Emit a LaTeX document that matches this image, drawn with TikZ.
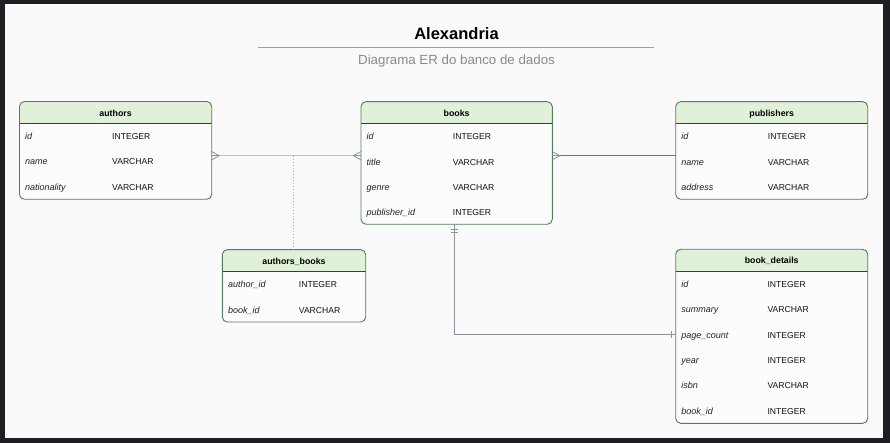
\documentclass[tikz,border=0pt]{standalone}
\usepackage{fontspec}
\setmainfont{Liberation Sans}
\usetikzlibrary{calc}
\definecolor{framedark}{HTML}{1E1F22}
\definecolor{bgc}{HTML}{FAFAFA}
\definecolor{bodyfill}{HTML}{FCFCFC}
\definecolor{headfill}{HTML}{E0F0D9}
\definecolor{tblborder}{HTML}{4E7D5B}
\definecolor{sepc}{HTML}{1F4D2C}
\definecolor{relA}{HTML}{BCC1C8}
\definecolor{crowc}{HTML}{8C939C}
\definecolor{relB}{HTML}{6B7280}
\definecolor{relC}{HTML}{8C939C}
\definecolor{dotc}{HTML}{A8ADB4}
\definecolor{namegray}{HTML}{222222}
\definecolor{typeblack}{HTML}{111111}
\definecolor{rulegray}{HTML}{A0A0A0}
\definecolor{subgray}{HTML}{8A8A8A}
\tikzset{
  tbl/.style={draw=tblborder, line width=0.9pt, rounded corners=5pt, inner sep=0pt, outer sep=0pt},
  sepline/.style={draw=sepc, line width=1pt},
  ttl/.style={font=\bfseries\fontsize{8.8}{10}\selectfont, text=black, anchor=base, inner sep=0pt},
  fname/.style={font=\itshape\fontsize{9}{10}\selectfont, text=namegray, anchor=base west, inner sep=0pt},
  ftype/.style={font=\fontsize{8.6}{10}\selectfont, text=typeblack, anchor=base west, inner sep=0pt},
  relmain/.style={draw=relA, line width=1.6pt},
  reldark/.style={draw=relB, line width=0.8pt},
  relmid/.style={draw=relC, line width=0.8pt},
  reldot/.style={draw=dotc, line width=1pt, dotted},
  crow/.style={draw=crowc, line width=0.8pt},
}
\newcommand\ertable[8]{%
  \begin{scope}
    \clip[rounded corners=5pt] (#2,#3) rectangle (#4,#5);
    \fill[bodyfill] (#2,#3) rectangle (#4,#5);
    \fill[headfill] (#2,#3) rectangle (#4,{#3+21.8});
  \end{scope}
  \draw[sepline] (#2,{#3+21.8}) -- (#4,{#3+21.8});
  \pgfmathsetmacro\tw{#4-#2}%
  \pgfmathsetmacro\th{#5-#3}%
  \node[tbl, anchor=north west, minimum width=\tw pt, minimum height=\th pt] (#1) at (#2,#3) {};
  \node[ttl] (#1-title) at ({(#2+#4)/2},{#3+14.6}) {#6};
  \foreach \fn/\ft [count=\i] in {#8} {
    \node[fname] (#1-f\i) at ({#2+5.5},{#3+38.2+(\i-1)*25.3}) {\fn};
    \node[ftype] (#1-t\i) at ({#2+#7},{#3+38.2+(\i-1)*25.3}) {\ft};
  }
}
\newcommand\crowfoot[2]{%
  \draw[crow] ([yshift=4.2pt]#1) -- ([xshift=#2*7.5pt]#1) -- ([yshift=-4.2pt]#1);
  \draw[crow] (#1) -- ([xshift=#2*7.5pt]#1);
}
\begin{document}
\begin{tikzpicture}[x=1pt,y=-1pt]
\fill[framedark] (0,0) rectangle (890,443);
\fill[bgc] (5,4) rectangle (883,438);

% title
\node[font=\bfseries\fontsize{16.5}{19}\selectfont, anchor=base, inner sep=0pt] (title) at (456.5,39.3) {Alexandria};
\draw[rulegray, line width=1.5pt] (258.3,47.3) -- (654.3,47.3);
\node[font=\fontsize{13.3}{15}\selectfont, text=subgray, anchor=base, inner sep=0pt] (subtitle) at (456.5,65) {Diagrama ER do banco de dados};

% tables
\ertable{authors}{19.5}{101.5}{211.7}{199.3}{authors}{92.5}{id/INTEGER, name/VARCHAR, nationality/VARCHAR}
\ertable{books}{361}{101.7}{552.3}{224.3}{books}{91.7}{id/INTEGER, title/VARCHAR, genre/VARCHAR, publisher\_id/INTEGER}
\ertable{publishers}{675.7}{101.7}{867.7}{199.3}{publishers}{92}{id/INTEGER, name/VARCHAR, address/VARCHAR}
\ertable{authorsbooks}{222.3}{249.7}{365.7}{322}{authors\_books}{76.4}{author\_id/INTEGER, book\_id/VARCHAR}
\ertable{bookdetails}{675.7}{249.3}{867.7}{423.3}{book\_details}{91.6}{id/INTEGER, summary/VARCHAR, page\_count/INTEGER, year/INTEGER, isbn/VARCHAR, book\_id/INTEGER}

% connectors
\coordinate (j1) at (293.7,155.7);
\coordinate (aE) at (authors.east |- j1);
\coordinate (bW) at (books.west |- j1);
\coordinate (bE) at (books.east |- j1);
\coordinate (pW) at (publishers.west |- j1);
\draw[relmain] (aE) -- (bW);
\draw[reldot] (j1) -- (j1 |- authorsbooks.north);
\draw[reldark] (bE) -- (pW);
\crowfoot{aE}{1}
\crowfoot{bW}{-1}
\crowfoot{bE}{1}

\coordinate (bS) at ([xshift=-2.2pt]books.south);
\coordinate (bdrow) at (0,334.3);
\coordinate (bdL) at (bookdetails.west |- bdrow);
\draw[relmid] (bS) |- (bdL);
\draw[crow] ($(bS)+(-3.3,4.7)$) -- ++(6.6,0);
\draw[crow] ($(bS)+(-3.3,8.2)$) -- ++(6.6,0);
\draw[crow] ($(bdL)+(-4,-3.5)$) -- ++(0,7);
\end{tikzpicture}
\end{document}
